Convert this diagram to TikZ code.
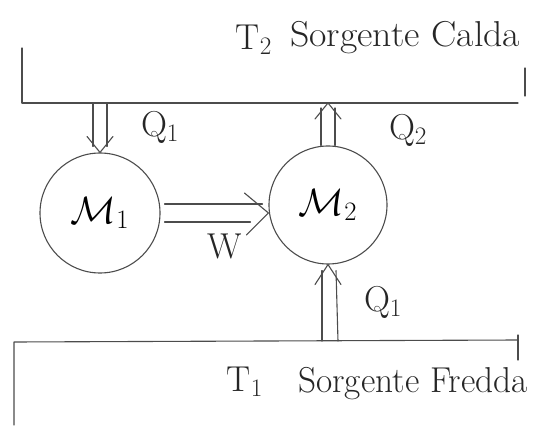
\RequirePackage{fix-cm}
\documentclass[tikz,border=0pt]{standalone}
\usetikzlibrary{calc}
\begin{document}
\begin{tikzpicture}[x=1pt,y=-1pt,
  pen/.style={draw=black!70,line width=1.1pt,line cap=round,line join=round},
  circ/.style={pen,circle,inner sep=0pt},
  lbl/.style={text=black!85,inner sep=0pt,font=\fontsize{36}{40}\selectfont},
  mlbl/.style={font=\fontsize{38}{42}\selectfont}]
\useasboundingbox (0,0) rectangle (559,430);
% reservoirs
\coordinate (tl) at (22,103);
\coordinate (tr) at (518,103);
\draw[pen] (22,48) -- (tl) -- (tr);
\draw[pen] (525,68) -- (525,96);
\coordinate (bl) at (14,342);
\coordinate (br) at (518,340);
\draw[pen] (14,425) -- (bl) -- (br);
\draw[pen] (518,335) -- (518,360);
% machines
\node[circ,minimum size=120pt,mlbl] (m1) at (100,213) {$\mathcal{M}_1$};
\node[circ,minimum size=118pt,mlbl] (m2) at (328,205) {$\mathcal{M}_2$};
% Q1 top-left (down)
\coordinate (qa) at (100,103);
\draw[pen] ($(qa)+(-7,0)$) -- ($(m1.north)+(-7,-6)$);
\draw[pen] ($(qa)+(7,0)$) -- ($(m1.north)+(7,-6)$);
\draw[pen] ($(m1.north)+(-13,-16)$) -- (m1.north) -- ($(m1.north)+(13,-16)$);
% Q2 (up)
\coordinate (qb) at (328,103);
\draw[pen] ($(m2.north)+(-7,0)$) -- ($(qb)+(-7,5)$);
\draw[pen] ($(m2.north)+(7,0)$) -- ($(qb)+(7,5)$);
\draw[pen] ($(qb)+(-13,16)$) -- (qb) -- ($(qb)+(13,16)$);
% W (right)
\coordinate (wt) at ($(m2.west)+(0,8)$);
\draw[pen] ($(m1.east)+(4,-9)$) -- ($(wt)+(-6,-9)$);
\draw[pen] ($(m1.east)+(4,9)$) -- ($(wt)+(-18,9)$);
\draw[pen] ($(wt)+(-24,-20)$) -- (wt) -- ($(wt)+(-22,22)$);
% Q1 bottom (up)
\coordinate (qc) at (330,341);
\draw[pen] ($(qc)+(-8,0)$) -- ($(m2.south)+(-6,6)$);
\draw[pen] ($(qc)+(8,0)$) -- ($(m2.south)+(8,6)$);
\draw[pen] ($(m2.south)+(-13,20)$) -- (m2.south) -- ($(m2.south)+(13,20)$);
% labels
\node[lbl] (t2) at (254,40) {T$_2$};
\node[lbl,anchor=west] (sc) at (290,38) {\scalebox{1.05}[1]{Sorgente Calda}};
\node[lbl] (qal) at (160,127) {Q$_1$};
\node[lbl] (qbl) at (408,130) {Q$_2$};
\node[lbl] (wl) at (225,246) {W};
\node[lbl] (qcl) at (383,302) {Q$_1$};
\node[lbl] (t1) at (245,382) {T$_1$};
\node[lbl,anchor=west] (sf) at (298,384) {\scalebox{0.98}[1]{Sorgente Fredda}};
\end{tikzpicture}
\end{document}
